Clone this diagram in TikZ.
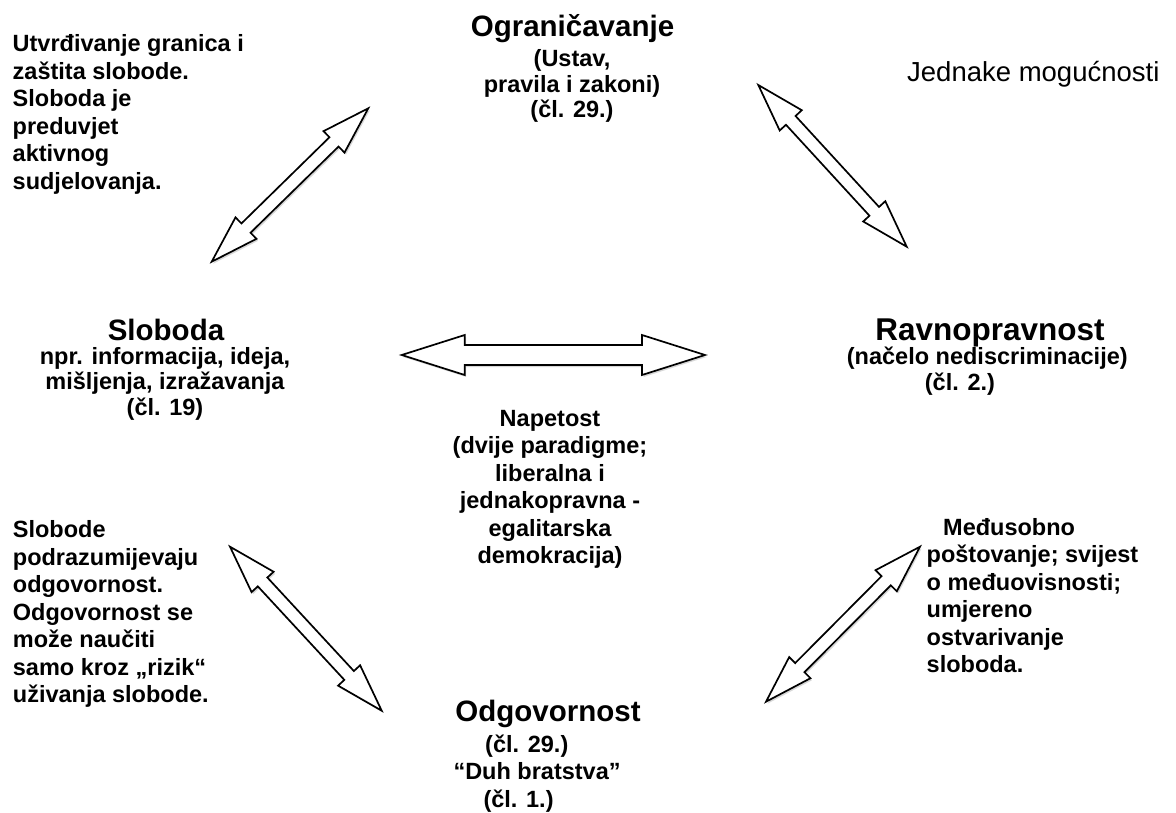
\documentclass[tikz,border=0pt]{standalone}
\usepackage{fontspec}
\setmainfont{Liberation Sans}
\usetikzlibrary{calc, positioning, shadows}

% hollow two-headed arrow between two named points
\newcommand{\twoway}[6][]{%
  \draw[arrowbody,#1] (#2)
    -- ($($(#2)!#6pt!(#3)$)!#5pt!90:(#3)$)
    -- ($($(#2)!#6pt!(#3)$)!#4pt!90:(#3)$)
    -- ($($(#3)!#6pt!(#2)$)!#4pt!-90:(#2)$)
    -- ($($(#3)!#6pt!(#2)$)!#5pt!-90:(#2)$)
    -- (#3)
    -- ($($(#3)!#6pt!(#2)$)!#5pt!90:(#2)$)
    -- ($($(#3)!#6pt!(#2)$)!#4pt!90:(#2)$)
    -- ($($(#2)!#6pt!(#3)$)!#4pt!-90:(#3)$)
    -- ($($(#2)!#6pt!(#3)$)!#5pt!-90:(#3)$)
    -- cycle;}

\begin{document}
\begin{tikzpicture}[x=1pt, y=-1pt,
    head/.style={font={\fontsize{29.5}{34}\selectfont\bfseries}, inner sep=0pt},
    sidehead/.style={head, font={\fontsize{31.5}{36}\selectfont\bfseries}},
    body/.style={font={\fontsize{23.5}{27.5}\selectfont\bfseries}, inner sep=0pt, align=left},
    tight/.style={font={\fontsize{23.5}{25.5}\selectfont\bfseries}},
    arrowbody/.style={draw=black, line width=1.7pt, fill=white, line join=miter},
    soft/.style={drop shadow={shadow xshift=1.5pt, shadow yshift=-2pt, opacity=0.22, fill=black!70}}]
    \fill[white] (0,0) rectangle (1176,813);
    \useasboundingbox (0,0) rectangle (1176,813);

    \node[body, anchor=north west] (limtxt) at (12.5,34.7) {Utvrđivanje granica i\\zaštita slobode.\\Sloboda je\\preduvjet\\aktivnog\\sudjelovanja.};
    \node[head, anchor=base] (ogr) at (572.5,36.7) {Ograničavanje};
    \node[body, tight, align=center, anchor=north] (ogrtxt) at (572,49.6) {(Ustav,\\pravila i zakoni)\\(čl. 29.)};
    \node[anchor=base west, inner sep=0pt, font={\fontsize{27.5}{32}\selectfont}] (jed) at (907,81.7) {Jednake mogućnosti};

    \node[head, anchor=base] (slo) at (166,340) {Sloboda};
    \node[body, tight, align=center, anchor=north] (slotxt) at (165,346.9) {npr. informacija, ideja,\\mišljenja, izražavanja\\(čl. 19)};
    \node[sidehead, anchor=base] (rav) at (990,340) {Ravnopravnost};
    \node[body, tight, anchor=north west] (ravtxt) at (846.7,346.9) {(načelo nediscriminacije)\\\hspace*{78pt}(čl. 2.)};

    \node[body, align=center, anchor=north] (nap) at (550,409.9) {Napetost\\(dvije paradigme;\\liberalna i\\jednakopravna -\\egalitarska\\demokracija)};

    \node[body, anchor=north west] (odgtxtl) at (12.7,520.3) {Slobode\\podrazumijevaju\\odgovornost.\\Odgovornost se\\može naučiti\\samo kroz „rizik“\\uživanja slobode.};
    \node[body, anchor=north west] (medtxt) at (926.5,518.2) {\hspace*{16.5pt}Međusobno\\poštovanje; svijest\\o međuovisnosti;\\umjereno\\ostvarivanje\\sloboda.};

    \node[head, anchor=base] (odg) at (548,721.7) {Odgovornost};
    \node[body, anchor=north west] (odgtxt) at (453.3,734.6) {\hspace*{31.7pt}(čl. 29.)\\“Duh bratstva”\\\hspace*{30pt}(čl. 1.)};

    % arrows
    \coordinate (a1s) at (211.7,261.7);
    \coordinate (a1e) at (368.3,108.3);
    \coordinate (a2s) at (758.3,85);
    \coordinate (a2e) at (906.7,246.7);
    \coordinate (a3s) at (401.7,355);
    \coordinate (a3e) at (705,355);
    \coordinate (a4s) at (230,546.7);
    \coordinate (a4e) at (381.7,710.7);
    \coordinate (a5s) at (920,546.7);
    \coordinate (a5e) at (766,701.7);
    \twoway[soft]{a1s}{a1e}{6.5}{15}{48}
    \twoway{a2s}{a2e}{6.5}{15}{48}
    \twoway[soft]{a3s}{a3e}{10}{20}{63}
    \twoway[soft]{a4s}{a4e}{6.5}{15}{48}
    \twoway[soft]{a5s}{a5e}{6.5}{15}{48}
\end{tikzpicture}
\end{document}
